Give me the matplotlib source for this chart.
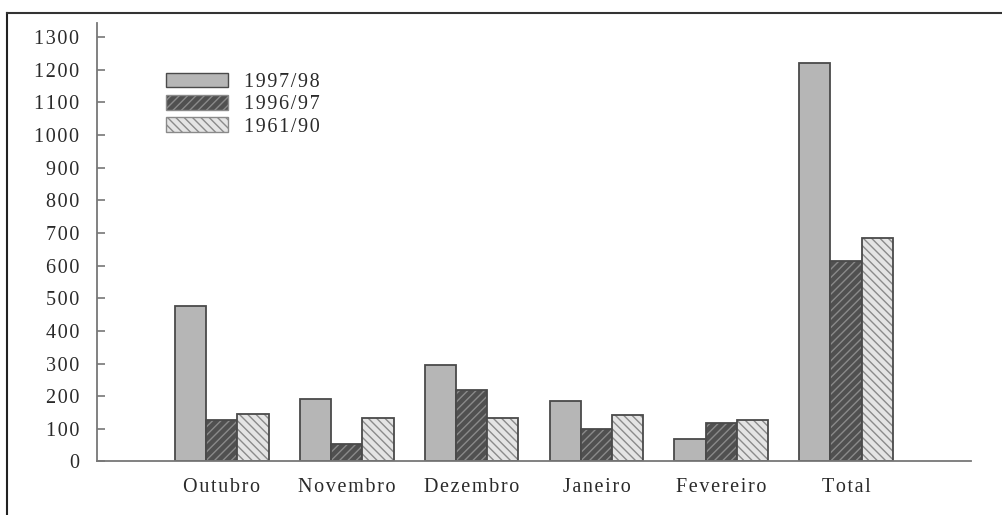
import matplotlib.pyplot as plt
from matplotlib.lines import Line2D
from matplotlib.patches import Patch
import numpy as np

meses = ['Outubro', 'Novembro', 'Dezembro', 'Janeiro', 'Fevereiro', 'Total']
series = ['1997/98', '1996/97', '1961/90']
v_9798 = [475, 191, 294, 184, 68, 1221]
v_9697 = [126, 53, 220, 99, 119, 614]
v_6190 = [144, 133, 133, 143, 128, 684]
yticks = list(range(0, 1301, 100))

plt.rcParams['font.family'] = ['Liberation Serif', 'DejaVu Serif']
plt.rcParams['hatch.linewidth'] = 1.0


def spaced(s):
    # the scan has wide letter spacing
    return '\u200a'.join(s)


fig = plt.figure(figsize=(10.02, 5.15), dpi=100)
ax = fig.add_axes([0.0968, 0.104, 0.8722, 0.851])

x = np.arange(len(meses))
w = 0.25
outline = '#4a4a4a'
fs = 14.5

# (values, face, hatch, hatch colour)
styles = [
    (v_9798, '#b6b6b6', None, None),
    (v_9697, '#505050', '////', '#8a8a8a'),
    (v_6190, '#e4e4e4', '\\\\\\\\', '#8a8a8a'),
]

handles = []
for k, (vals, face, hatch, hcol) in enumerate(styles):
    pos = x + (k - 1) * w
    if hatch:
        ax.bar(pos, vals, w, color=face, edgecolor=hcol, hatch=hatch, linewidth=0)
    else:
        ax.bar(pos, vals, w, color=face, linewidth=0)
    ax.bar(pos, vals, w, fill=False, edgecolor=outline, linewidth=1.3)
    handles.append(Patch(facecolor=face, edgecolor=hcol if hatch else outline,
                         hatch=hatch, linewidth=1.0))

ax.set_xlim(-1, 6)
ax.set_ylim(0, 1343)
ax.set_yticks(yticks)
ax.set_yticklabels([spaced(str(t)) for t in yticks])
ax.set_xticks(x)
ax.set_xticklabels([spaced(m) for m in meses])

for s in ['top', 'right']:
    ax.spines[s].set_visible(False)
for s in ['left', 'bottom']:
    ax.spines[s].set_color('#777777')
    ax.spines[s].set_linewidth(1.3)

ax.tick_params(axis='y', direction='in', length=6, width=1.2, color='#777777',
               labelsize=fs, labelcolor='#2a2a2a', pad=13)
ax.tick_params(axis='x', length=0, labelsize=fs, labelcolor='#2a2a2a', pad=12)

leg = ax.legend(handles, [spaced(s) for s in series], loc='upper left',
                bbox_to_anchor=(0.067, 0.91), frameon=False, fontsize=fs,
                handlelength=3.1, handleheight=0.75, labelspacing=0.14,
                handletextpad=0.8, borderpad=0)
for t in leg.get_texts():
    t.set_color('#2a2a2a')

# border of the scanned page (only top and left visible)
fig.add_artist(Line2D([0.007, 0.007], [0, 0.975], transform=fig.transFigure,
                      color='#222222', linewidth=1.5))
fig.add_artist(Line2D([0.007, 1.0], [0.975, 0.975], transform=fig.transFigure,
                      color='#333333', linewidth=1.5))

fig.savefig('out.png', dpi=100)
